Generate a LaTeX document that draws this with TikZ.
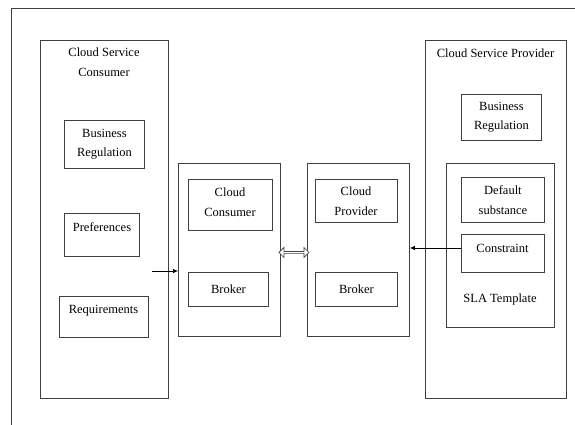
\documentclass[tikz,border=0pt]{standalone}
\usepackage{fontspec}
\setmainfont{Liberation Serif}
\usetikzlibrary{arrows.meta,shapes.arrows,calc}
\begin{document}
\begin{tikzpicture}[x=1pt,y=-1pt,
  ln/.style={draw=black!75,line width=0.9pt},
  bx/.style={ln,rectangle,inner sep=0pt,anchor=north west},
  txt/.style={font=\fontsize{12.5}{19.5}\selectfont,align=center,inner sep=0pt},
  arr/.style={draw=black,line width=0.7pt,-{Latex[length=5pt,width=4.5pt]}}]
\useasboundingbox (0,0) rectangle (575,425);
% outer frame
\draw[ln] (11,425) -- (11,8) -- (575,8);
% consumer
\node[bx,minimum width=128pt,minimum height=358pt] (csc) at (40,40) {};
\node[txt] (csct) at (104,62) {Cloud Service\\Consumer};
\node[bx,minimum width=80pt,minimum height=48pt] (br1) at (64,120) {};
\node[txt] at (br1.center) {Business\\Regulation};
\node[bx,minimum width=75pt,minimum height=43pt] (pref) at (64,213) {};
\node[txt] at (102,227) {Preferences};
\node[bx,minimum width=89pt,minimum height=41pt] (req) at (59,296) {};
\node[txt] at (103.5,311) {Requirements};
% middle left
\node[bx,minimum width=102pt,minimum height=173pt] (ml) at (178,163) {};
\node[bx,minimum width=84pt,minimum height=51pt] (cc) at (188,179) {};
\node[txt] at (230,202) {Cloud\\Consumer};
\node[bx,minimum width=80pt,minimum height=34pt] (bk1) at (188,272) {};
\node[txt] at (bk1.center) {Broker};
% middle right
\node[bx,minimum width=102pt,minimum height=173pt] (mr) at (307,163) {};
\node[bx,minimum width=82pt,minimum height=43pt] (cp) at (315,179) {};
\node[txt] at (356,201) {Cloud\\Provider};
\node[bx,minimum width=82pt,minimum height=34pt] (bk2) at (315,272) {};
\node[txt] at (bk2.center) {Broker};
% provider
\node[bx,minimum width=141pt,minimum height=358pt] (csp) at (425,40) {};
\node[txt] (cspt) at (495.5,53) {Cloud Service Provider};
\node[bx,minimum width=80pt,minimum height=46pt] (br2) at (461,94) {};
\node[txt] at (br2.center) {Business\\Regulation};
\node[bx,minimum width=108pt,minimum height=164pt] (sla) at (446,163) {};
\node[txt] at (500,299) {SLA Template};
\node[bx,minimum width=83pt,minimum height=45pt] (ds) at (461,177) {};
\node[txt] at (ds.center) {Default\\substance};
\node[bx,minimum width=83pt,minimum height=38pt] (con) at (461,234) {};
\node[txt] at (502.5,248) {Constraint};
% connectors
\coordinate (s1) at (152,271);
\draw[arr] (s1) -- (s1 -| ml.west);
\draw[arr] (con.west |- 0,248) -- (mr.east |- 0,248);
\node[double arrow,draw=black!75,line width=0.7pt,fill=white,minimum width=10pt,
  double arrow head extend=1.5pt,minimum height=30pt,inner sep=0pt]
  (da) at ($(ml.east)!0.5!(mr.west)+(0,2.5)$) {};
\end{tikzpicture}
\end{document}
